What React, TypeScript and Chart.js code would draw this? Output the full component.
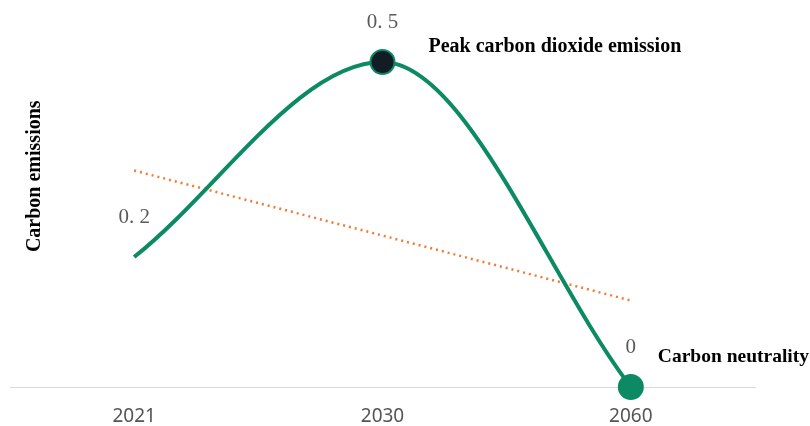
import React, { useEffect, useRef } from "react";
import { Chart, registerables } from "chart.js";

Chart.register(...registerables);

const years = ["2021", "2030", "2060"];
const emissions = [0.2, 0.5, 0];
const trend = [0.333, 0.233, 0.133];
const valueLabels = ["0. 2", "0. 5", "0"];
const notes = ["", "Peak carbon dioxide emission", "Carbon neutrality"];
const yTitle = "Carbon emissions";

const GREEN = "#0c8a64";
const DARK = "#111c25";
const ORANGE = "#f27a33";

export default function App() {
  const ref = useRef<HTMLCanvasElement | null>(null);
  useEffect(() => {
    if (!ref.current) return;
    const labelPlugin = {
      id: "labels",
      afterDatasetsDraw(chart: any) {
        const ctx = chart.ctx;
        const meta = chart.getDatasetMeta(0);
        ctx.save();
        meta.data.forEach((pt: any, i: number) => {
          ctx.font = '21px "Liberation Serif"';
          ctx.fillStyle = "#5a5a5a";
          ctx.textAlign = "center";
          ctx.textBaseline = "middle";
          ctx.fillText(valueLabels[i], pt.x, pt.y - 40);
          if (notes[i]) {
            ctx.font = i === 1 ? 'bold 20px "Liberation Serif"' : 'bold 19.5px "Liberation Serif"';
            ctx.fillStyle = "#000000";
            ctx.textAlign = "left";
            const dx = i === 1 ? 46 : 27;
            const dy = i === 1 ? -15 : -30;
            ctx.fillText(notes[i], pt.x + dx, pt.y + dy);
          }
        });
        const area = chart.chartArea;
        ctx.translate(35, (area.top + area.bottom) / 2 - 32);
        ctx.rotate(-Math.PI / 2);
        ctx.font = 'bold 20px "Liberation Serif"';
        ctx.fillStyle = "#000000";
        ctx.textAlign = "center";
        ctx.textBaseline = "middle";
        ctx.fillText(yTitle, 0, 0);
        ctx.restore();
      },
    };
    const chart = new Chart(ref.current, {
      type: "line",
      data: {
        labels: years,
        datasets: [
          {
            data: emissions,
            borderColor: GREEN,
            borderWidth: 4,
            cubicInterpolationMode: "monotone",
            pointRadius: [0, 12, 12],
            pointHoverRadius: [0, 12, 12],
            pointBackgroundColor: [GREEN, DARK, GREEN],
            pointBorderColor: [GREEN, GREEN, GREEN],
            pointBorderWidth: 2,
            clip: false,
            order: 0,
          } as any,
          {
            data: trend,
            borderColor: ORANGE,
            borderWidth: 2.5,
            borderDash: [2, 4],
            tension: 0,
            pointRadius: 0,
            clip: false,
            order: 1,
          } as any,
        ],
      },
      options: {
        animation: false,
        responsive: false,
        devicePixelRatio: 1,
        layout: { autoPadding: false, padding: { left: 10, right: 55, top: 29.5, bottom: 0 } },
        plugins: { legend: { display: false }, tooltip: { enabled: false } },
        scales: {
          x: {
            offset: true,
            grid: { display: false, drawTicks: false },
            border: { display: true, color: "#d9d9d9", width: 1 },
            ticks: {
              padding: 18,
              color: "#555555",
              font: { family: '"Noto Sans", sans-serif', size: 19 },
            },
            afterFit: (scale: any) => {
              scale.height = 39;
              scale.paddingLeft = 0;
              scale.paddingRight = 0;
            },
          },
          y: { display: false, min: 0, max: 0.55 },
        },
      },
      plugins: [labelPlugin],
    } as any);
    return () => chart.destroy();
  }, []);
  return (
    <div style={{ position: "absolute", left: 0, top: 0, width: 810, height: 426, background: "#fff" }}>
      <canvas ref={ref} width={810} height={426} />
    </div>
  );
}
